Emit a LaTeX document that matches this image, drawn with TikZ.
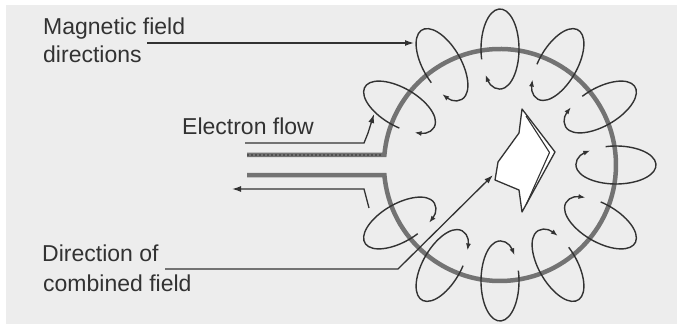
\documentclass[tikz,border=0pt]{standalone}
\usepackage{fontspec}
\setmainfont{Liberation Sans}
\usetikzlibrary{arrows.meta,calc}
\definecolor{paper}{RGB}{237,237,237}
\definecolor{ink}{RGB}{50,50,50}
\definecolor{wire}{RGB}{115,115,115}
\definecolor{wiredot}{RGB}{80,80,80}
\tikzset{
  label/.style={anchor=base west, inner sep=0pt, text=ink,
    font=\fontsize{23}{28}\selectfont},
  lead/.style={draw=ink, line width=1.3pt, line join=miter},
  tip/.style={-{Latex[length=9pt,width=6pt]}},
  ring/.style={draw=wire, line width=4.5pt, line join=miter},
  loopline/.style={draw=ink, line width=1.4pt,
    -{Latex[length=7pt,width=5pt]}},
}
\begin{document}
\begin{tikzpicture}[x=1pt,y=1pt]
  % page and paper
  \fill[white] (0,0) rectangle (682,327);
  \fill[paper] (6,3) rectangle (677,322);
  \useasboundingbox (0,0) rectangle (682,327);

  % centre of the wire loop
  \coordinate (C) at (500,162);

  % wire loop with its two leads
  \coordinate (leadA) at (247,172.1);
  \coordinate (leadB) at (247,151.9);
  \coordinate (jA) at (384.4,172.1);
  \coordinate (jB) at (384.4,151.9);
  \draw[ring] (leadB) -- (jB) arc[start angle=-175, end angle=175, radius=116] -- (leadA);
  \draw[wiredot, line width=1.6pt, dash pattern=on 2pt off 2pt] (leadA) -- ($(jA)+(-3,0)$);

  % magnetic field loops around the wire
  \foreach \t in {150,120,90,60,30,0,-30,-60,-90,-120,-150}{
    \begin{scope}[shift={(500,162)}, rotate=\t, shift={(116,0)}]
      \draw[loopline] (105:40 and 19) arc[start angle=105, end angle=-230, x radius=40, y radius=19];
    \end{scope}
  }

  % board in the centre of the loop
  \coordinate (f1) at (522,218);
  \coordinate (f2) at (555,175);
  \coordinate (f3) at (522,115);
  \coordinate (f4) at (519,137);
  \coordinate (f5) at (495,147);
  \coordinate (f6) at (498,165);
  \coordinate (f7) at (519,194);
  \filldraw[fill=white, draw=ink, line width=1.3pt, line join=round]
    (f1) -- (f2) -- (f3) -- (f4) -- (f5) -- (f6) -- (f7) -- cycle;
  \coordinate (g1) at (526,211);
  \coordinate (g2) at (549.5,174.5);
  \coordinate (g3) at (526,122);
  \draw[ink, line width=1.1pt, line join=round] (g1) -- (g2) -- (g3);

  % labels
  \node[label] (magA) at (43,292) {Magnetic field};
  \node[label] (magB) at (43,264) {directions};
  \node[label] (elec) at (182,192) {Electron flow};
  \node[label] (dirA) at (42,66) {Direction of};
  \node[label] (dirB) at (43,36) {combined field};

  % leader arrows
  \coordinate (m0) at (147,284);
  \coordinate (m1) at (414,284);
  \draw[lead, tip] (m0) -- (m1);

  \coordinate (e0) at (245,184);
  \coordinate (e1) at (364,184);
  \coordinate (e2) at (368,194);
  \coordinate (e3) at (374,213);
  \draw[lead, tip] (e0) -- (e1) -- (e2) -- (e3);

  \coordinate (r0) at (369,119);
  \coordinate (r1) at (364,138);
  \coordinate (r2) at (232,138);
  \draw[lead, tip] (r0) -- (r1) -- (r2);

  \coordinate (d0) at (165,58);
  \coordinate (d1) at (398,58);
  \coordinate (d2) at (493,152);
  \draw[lead, tip] (d0) -- (d1) -- (d2);
\end{tikzpicture}
\end{document}
